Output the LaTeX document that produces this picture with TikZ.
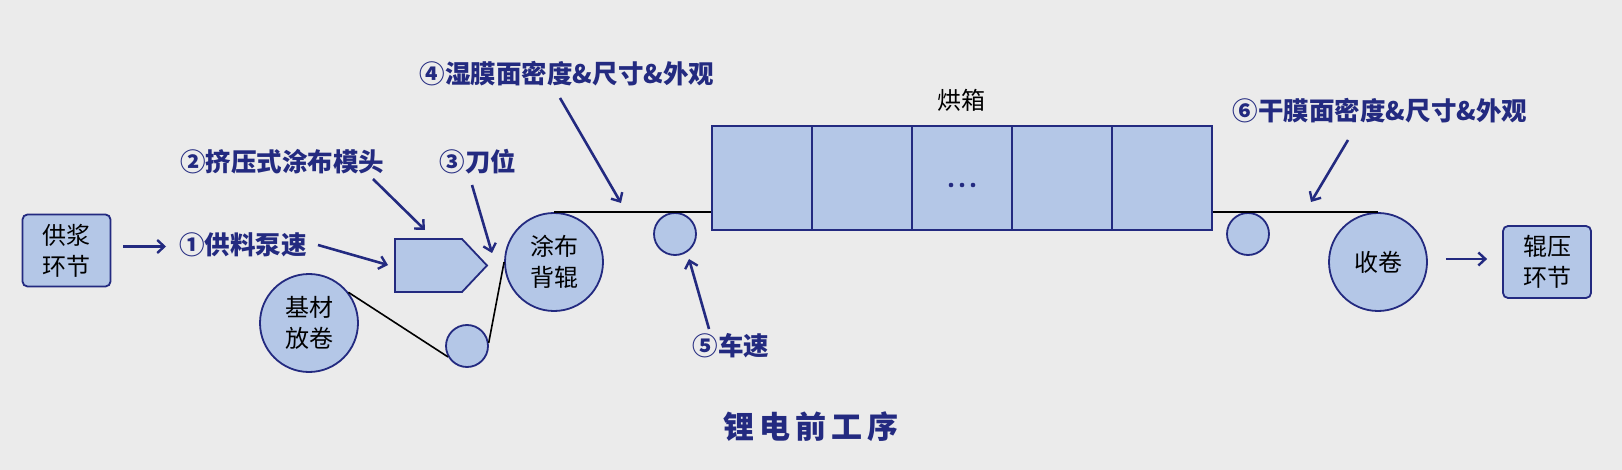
\documentclass[tikz,border=0pt]{standalone}
\usepackage{fontspec}
\newfontfamily\cjk{Noto Sans CJK SC}
\usetikzlibrary{arrows.meta}
\definecolor{navy}{HTML}{232A80}
\definecolor{partblue}{HTML}{B4C7E7}
\definecolor{bggray}{HTML}{EBEBEB}

\begin{document}
\begin{tikzpicture}[x=1pt,y=-1pt,
    part/.style={draw=navy,fill=partblue,line width=1.8pt},
    roller/.style={part,circle,inner sep=0pt,font=\cjk\fontsize{24}{31}\selectfont,align=center},
    stage/.style={part,rounded corners=5pt,inner sep=0pt,font=\cjk\fontsize{24}{31}\selectfont,align=center,minimum width=88pt,minimum height=72pt},
    cell/.style={part,minimum width=100pt,minimum height=104pt,inner sep=0pt},
    callout/.style={text=navy,font=\cjk\bfseries\fontsize{25.5}{30}\selectfont,inner sep=0pt},
    pointer/.style={draw=navy,line width=2.6pt,-{Straight Barb[length=7pt,width=13pt,line width=2.4pt]}},
    web/.style={draw=black,line width=1.6pt}]
  % background
  \fill[bggray] (0,0) rectangle (1622,470);

  % stages
  \node[stage] (supply) at (66.5,250.5) {供浆\\环节};
  \node[stage] (press) at (1547,262) {辊压\\环节};

  % rollers
  \node[roller,minimum size=98pt] (unwind) at (309,323) {基材\\放卷};
  \node[roller,minimum size=42pt] (idle1) at (467,346) {};
  \node[roller,minimum size=98pt] (coat) at (554,262) {涂布\\背辊};
  \node[roller,minimum size=42pt] (idle2) at (675,234) {};
  \node[roller,minimum size=42pt] (idle3) at (1248,234) {};
  \node[roller,minimum size=98pt] (wind) at (1378,262) {收卷};

  % die
  \draw[part] (395,239) -- (462,239) -- (487,265.5) coordinate (dietip) -- (462,292) -- (395,292) -- cycle;

  % oven
  \foreach \i in {1,...,5}
    \node[cell] (oven\i) at (662+100*\i,178) {};
  \node[font=\cjk\fontsize{24}{28}\selectfont] at (961,100) (ovenlab) {烘箱};
  \foreach \dx in {-11,0,11}
    \fill[navy] ([xshift=\dx pt,yshift=-7pt]oven3.center) circle (2.3pt);

  % web path
  \draw[web] (unwind.38) -- (idle1.210);
  \draw[web] (idle1.8) -- (coat.west);
  \draw[web] (coat.north) -- (coat.north -| oven1.west);
  \draw[web] (oven5.east |- wind.north) -- (wind.north);

  % labels
  \node[callout] (lab1) at (243,245) {①供料泵速};
  \node[callout] (lab2) at (282,162) {②挤压式涂布模头};
  \node[callout] (lab3) at (478,162) {③刀位};
  \node[callout] (lab4) at (567,74) {④湿膜面密度\&尺寸\&外观};
  \node[callout] (lab5) at (731,346) {⑤车速};
  \node[callout] (lab6) at (1380,111) {⑥干膜面密度\&尺寸\&外观};

  \coordinate (t1) at (388,265);
  \coordinate (t2) at (425,230);
  \coordinate (t3) at (492,253);
  \coordinate (t4) at (621,203);
  \coordinate (t5) at (689,259);
  \coordinate (t6) at (1311,202);

  % arrows
  \draw[pointer] ([shift={(12,-4)}]supply.east) -- (166,246.5);
  \draw[pointer] ([shift={(75,0)}]lab1.center) -- (t1);
  \draw[pointer] ([shift={(91,17)}]lab2.center) -- (t2);
  \draw[pointer] ([shift={(-6,23)}]lab3.center) -- (t3);
  \draw[pointer] ([shift={(-7,24)}]lab4.center) -- (t4);
  \draw[pointer] ([shift={(-22,-17)}]lab5.center) -- (t5);
  \draw[pointer] ([shift={(-32,29)}]lab6.center) -- (t6);
  \draw[pointer] ([shift={(18,-3)}]wind.east) -- ([shift={(-15,-3)}]press.west);

  % title
  \node[text=navy,font=\cjk\bfseries\fontsize{31}{36}\selectfont] (title) at (811,427) {锂\,电\,前\,工\,序};
\end{tikzpicture}
\end{document}
